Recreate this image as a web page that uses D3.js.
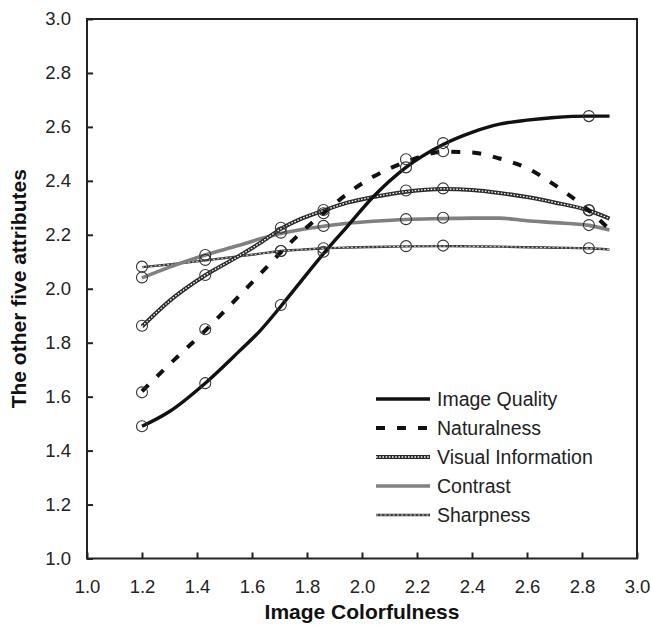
<!DOCTYPE html>
<html>
<head>
<meta charset="utf-8">
<script src="https://cdn.jsdelivr.net/npm/d3@7"></script>
<style>
  html, body { margin: 0; padding: 0; background: #fff; }
  svg { display: block; font-family: "Liberation Sans", Arial, sans-serif; }
</style>
</head>
<body>
<svg id="chart" width="651" height="625"></svg>
<script>
// Fitted curve samples (x positions) shared by all five attributes
const curveX = [1.2, 1.3, 1.43, 1.55, 1.63, 1.705, 1.78, 1.86, 1.95, 2.04, 2.16, 2.295, 2.4, 2.5, 2.6, 2.7, 2.825, 2.9];
const imageQualityCurve = [1.49, 1.545, 1.65, 1.765, 1.845, 1.935, 2.03, 2.13, 2.235, 2.34, 2.45, 2.535, 2.58, 2.61, 2.625, 2.635, 2.64, 2.64];
const naturalnessCurve = [1.62, 1.72, 1.845, 1.97, 2.055, 2.135, 2.21, 2.28, 2.355, 2.415, 2.47, 2.508, 2.505, 2.483, 2.447, 2.385, 2.29, 2.22];
const visualInfoCurve = [1.86, 1.955, 2.05, 2.12, 2.17, 2.222, 2.26, 2.29, 2.32, 2.34, 2.36, 2.37, 2.366, 2.355, 2.34, 2.32, 2.29, 2.26];
const contrastCurve = [2.04, 2.08, 2.125, 2.16, 2.185, 2.205, 2.22, 2.232, 2.243, 2.25, 2.257, 2.26, 2.262, 2.262, 2.252, 2.245, 2.235, 2.218];
const sharpnessCurve = [2.08, 2.09, 2.105, 2.12, 2.13, 2.14, 2.145, 2.15, 2.153, 2.155, 2.157, 2.158, 2.157, 2.156, 2.154, 2.152, 2.15, 2.145];

// Measured points (circle markers)
const colorfulness = [1.2, 1.43, 1.705, 1.86, 2.16, 2.295, 2.825];
const imageQuality = [1.49, 1.65, 1.94, 2.137, 2.45, 2.54, 2.64];
const naturalness = [1.616, 1.85, 2.14, 2.28, 2.48, 2.51, 2.29];
const visualInfo = [1.863, 2.051, 2.226, 2.292, 2.364, 2.372, 2.292];
const contrast = [2.042, 2.125, 2.208, 2.233, 2.258, 2.263, 2.236];
const sharpness = [2.082, 2.107, 2.14, 2.15, 2.158, 2.16, 2.15];

const seriesNames = ["Image Quality", "Naturalness", "Visual Information", "Contrast", "Sharpness"];
const tickValues = [1.0, 1.2, 1.4, 1.6, 1.8, 2.0, 2.2, 2.4, 2.6, 2.8, 3.0];

// Line styles per attribute: base stroke plus optional white texture overlay
const styles = [
  { stroke: "#111", width: 3.4, dash: null, overlay: null },
  { stroke: "#111", width: 4, dash: "9,12", overlay: null },
  { stroke: "#2a2a2a", width: 4, dash: null, overlay: { width: 1.3, dash: "1.6,1.6" } },
  { stroke: "#808080", width: 3.6, dash: null, overlay: null },
  { stroke: "#3a3a3a", width: 2.4, dash: null, overlay: { width: 0.8, dash: "2,2.2" } }
];

const curves = [imageQualityCurve, naturalnessCurve, visualInfoCurve, contrastCurve, sharpnessCurve];
const points = [imageQuality, naturalness, visualInfo, contrast, sharpness];

const svg = d3.select("#chart");
const x = d3.scaleLinear().domain([1, 3]).range([87, 637]);
const y = d3.scaleLinear().domain([1, 3]).range([558.5, 19]);

// Axes with inward ticks
const xAxis = d3.axisBottom(x).tickValues(tickValues).tickFormat(d3.format(".1f")).tickSize(-6).tickPadding(21);
const yAxis = d3.axisLeft(y).tickValues(tickValues).tickFormat(d3.format(".1f")).tickSize(-6).tickPadding(16);

const gx = svg.append("g").attr("transform", `translate(0,${y(1)})`).call(xAxis);
const gy = svg.append("g").attr("transform", `translate(${x(1)},0)`).call(yAxis);
[gx, gy].forEach(g => {
  g.select(".domain").remove();
  g.selectAll(".tick line").attr("stroke", "#222").attr("stroke-width", 2);
  g.selectAll(".tick text").attr("fill", "#222").style("font-size", "18.5px");
});

// Plot frame
svg.append("rect")
  .attr("x", x(1)).attr("y", y(3))
  .attr("width", x(3) - x(1)).attr("height", y(1) - y(3))
  .attr("fill", "none").attr("stroke", "#222").attr("stroke-width", 2);

// Curves
const line = d3.line().x(d => x(d[0])).y(d => y(d[1])).curve(d3.curveMonotoneX);

function drawStroke(g, pathData, st) {
  const p = g.append("path").attr("d", pathData).attr("fill", "none")
    .attr("stroke", st.stroke).attr("stroke-width", st.width)
    .attr("stroke-linejoin", "round");
  if (st.dash) p.attr("stroke-dasharray", st.dash);
  if (st.overlay) {
    g.append("path").attr("d", pathData).attr("fill", "none")
      .attr("stroke", "#fff").attr("stroke-width", st.overlay.width)
      .attr("stroke-dasharray", st.overlay.dash);
  }
}

const plot = svg.append("g");
// draw back-to-front so the heavy black curves sit on top
[4, 3, 2, 1, 0].forEach(i => {
  const data = curveX.map((cx, j) => [cx, curves[i][j]]);
  drawStroke(plot, line(data), styles[i]);
});

// Circle markers
const markers = svg.append("g");
points.forEach(vals => {
  markers.selectAll(null)
    .data(colorfulness.map((cx, j) => [cx, vals[j]]))
    .enter().append("circle")
    .attr("cx", d => x(d[0])).attr("cy", d => y(d[1])).attr("r", 5.5)
    .attr("fill", "none").attr("stroke", "#333").attr("stroke-width", 1.1);
});

// Legend
const legend = svg.append("g");
const legendRows = d3.scaleLinear().domain([0, 4]).range([399, 515]);
seriesNames.forEach((name, i) => {
  const ly = legendRows(i);
  const row = legend.append("g");
  drawStroke(row, `M376,${ly}H430`, styles[i]);
  row.append("text").attr("x", 437).attr("y", ly).attr("dy", "0.35em")
    .attr("fill", "#222").style("font-size", "19.5px").text(name);
});

// Axis titles
svg.append("text")
  .attr("x", (x(1) + x(3)) / 2).attr("y", 619)
  .attr("text-anchor", "middle").attr("fill", "#111")
  .style("font-size", "21px").style("font-weight", "bold")
  .text("Image Colorfulness");

svg.append("text")
  .attr("transform", `translate(26,${(y(1) + y(3)) / 2}) rotate(-90)`)
  .attr("text-anchor", "middle").attr("fill", "#111")
  .style("font-size", "21px").style("font-weight", "bold")
  .text("The other five attributes");
</script>
</body>
</html>
